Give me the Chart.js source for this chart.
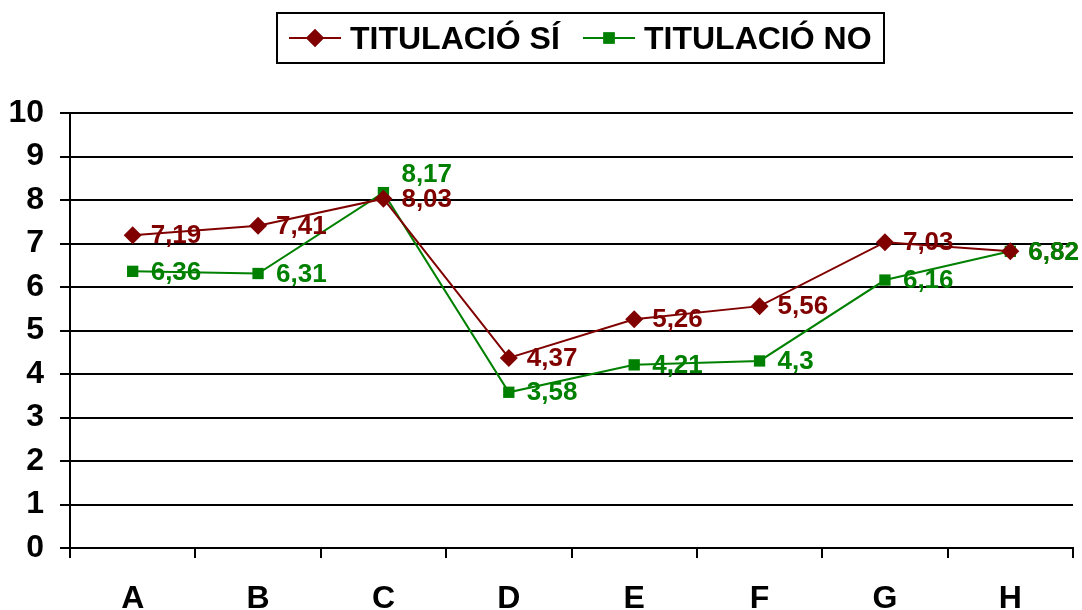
<!DOCTYPE html>
<html>
<head>
<meta charset="utf-8">
<script src="https://cdn.jsdelivr.net/npm/chart.js@4"></script>
<style>
  html, body { margin: 0; padding: 0; background: #fff; }
  #wrap { width: 1082px; height: 610px; }
</style>
</head>
<body>
<div id="wrap"><canvas id="chart" width="1082" height="610"></canvas></div>
<script>
const categories = ['A', 'B', 'C', 'D', 'E', 'F', 'G', 'H'];
const titulacioSi = [7.19, 7.41, 8.03, 4.37, 5.26, 5.56, 7.03, 6.82];
const titulacioNo = [6.36, 6.31, 8.17, 3.58, 4.21, 4.3, 6.16, 6.82];
const seriesNames = ['TITULACIÓ SÍ', 'TITULACIÓ NO'];

const RED = '#800000';
const GREEN = '#008000';
const FONT = '"Liberation Sans", Arial, sans-serif';

// value labels next to each point (comma as decimal separator)
const valueLabels = {
    id: 'valueLabels',
    afterDatasetsDraw(chart) {
        const ctx = chart.ctx;
        ctx.save();
        ctx.font = 'bold 26px ' + FONT;
        ctx.textAlign = 'left';
        ctx.textBaseline = 'middle';
        chart.data.datasets.forEach((ds, i) => {
            const meta = chart.getDatasetMeta(i);
            ctx.fillStyle = ds.borderColor;
            meta.data.forEach((pt, j) => {
                let dy = 1;
                if (i === 1 && j === 2) dy = -18; // label sits above the point at C
                const txt = String(ds.data[j]).replace('.', ',');
                ctx.fillText(txt, pt.x + 18, pt.y + dy);
            });
        });
        ctx.restore();
    }
};

// boxed legend at the top
const boxLegend = {
    id: 'boxLegend',
    afterDraw(chart) {
        const ctx = chart.ctx;
        ctx.save();
        ctx.strokeStyle = '#000';
        ctx.lineWidth = 2;
        ctx.strokeRect(277, 13, 607, 50);
        const y = 38;
        const items = [
            { x: 289, color: RED, style: 'rectRot', r: 9, text: seriesNames[0], tx: 350 },
            { x: 583, color: GREEN, style: 'rect', r: 8, text: seriesNames[1], tx: 644 }
        ];
        ctx.font = 'bold 32px ' + FONT;
        ctx.textBaseline = 'middle';
        items.forEach(it => {
            ctx.strokeStyle = it.color;
            ctx.lineWidth = 2;
            ctx.beginPath();
            ctx.moveTo(it.x, y);
            ctx.lineTo(it.x + 52, y);
            ctx.stroke();
            ctx.fillStyle = it.color;
            Chart.helpers.drawPoint(ctx, { pointStyle: it.style, radius: it.r, borderWidth: 0 }, it.x + 26, y);
            ctx.fill();
            ctx.fillStyle = '#000';
            ctx.fillText(it.text, it.tx, y + 2);
        });
        ctx.restore();
    }
};

new Chart(document.getElementById('chart').getContext('2d'), {
    type: 'line',
    data: {
        labels: categories,
        datasets: [
            {
                label: seriesNames[0],
                data: titulacioSi,
                borderColor: RED,
                backgroundColor: RED,
                borderWidth: 2,
                pointStyle: 'rectRot',
                pointRadius: 9,
                pointBorderWidth: 0,
                tension: 0
            },
            {
                label: seriesNames[1],
                data: titulacioNo,
                borderColor: GREEN,
                backgroundColor: GREEN,
                borderWidth: 2,
                pointStyle: 'rect',
                pointRadius: 8,
                pointBorderWidth: 0,
                tension: 0
            }
        ]
    },
    options: {
        responsive: false,
        animation: false,
        layout: { padding: { top: 113, right: 5, left: 0, bottom: 0 } },
        plugins: {
            legend: { display: false },
            tooltip: { enabled: false }
        },
        scales: {
            x: {
                offset: true,
                grid: {
                    offset: true,
                    drawOnChartArea: false,
                    color: '#000',
                    lineWidth: 2,
                    tickLength: 10
                },
                border: { color: '#000', width: 2 },
                ticks: {
                    color: '#000',
                    font: { family: FONT, size: 32, weight: 'bold' },
                    padding: 22
                },
                afterFit(scale) { scale.height = 62; }
            },
            y: {
                min: 0,
                max: 10,
                grid: {
                    color: '#000',
                    lineWidth: 2,
                    tickLength: 10
                },
                border: { color: '#000', width: 2 },
                ticks: {
                    stepSize: 1,
                    color: '#000',
                    font: { family: FONT, size: 32, weight: 'bold' },
                    padding: 16
                },
                afterFit(scale) { scale.width = 70; }
            }
        }
    },
    plugins: [valueLabels, boxLegend]
});
</script>
</body>
</html>
